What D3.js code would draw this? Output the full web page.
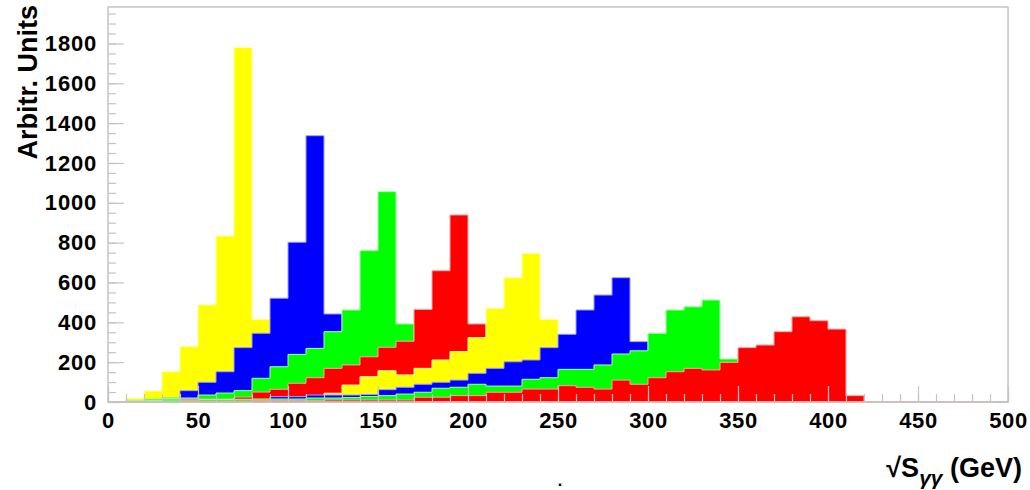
<!DOCTYPE html>
<html>
<head>
<meta charset="utf-8">
<script src="https://cdn.jsdelivr.net/npm/d3@7/dist/d3.min.js"></script>
<style>
  html, body { margin: 0; padding: 0; background: #fff; }
  svg { display: block; }
  text { font-family: "Liberation Sans", Arial, Helvetica, sans-serif; font-weight: bold; fill: #000; }
</style>
</head>
<body>
<svg id="chart" width="1030" height="490"></svg>
<script>
// Bin low edges, 10 GeV wide, 0..490
const binEdges = d3.range(0, 500, 10);

// Contents of each histogram, one value per bin (drawn in this order, each over the previous)
const yellowA = [0, 18, 55, 152, 278, 487, 833, 1779, 415, 300, 200, 140, 100, 70, 50, 35, 25, 18, 12, 8,
  0, 0, 0, 0, 0, 0, 0, 0, 0, 0, 0, 0, 0, 0, 0, 0, 0, 0, 0, 0, 0, 0, 0, 0, 0, 0, 0, 0, 0, 0];
const blueA = [0, 5, 10, 20, 57, 99, 152, 273, 345, 521, 802, 1337, 442, 300, 200, 130, 90, 60, 40, 25,
  15, 0, 0, 0, 0, 0, 0, 0, 0, 0, 0, 0, 0, 0, 0, 0, 0, 0, 0, 0, 0, 0, 0, 0, 0, 0, 0, 0, 0, 0];
const greenA = [0, 8, 15, 18, 20, 35, 45, 57, 119, 177, 239, 269, 353, 462, 760, 1056, 392, 250, 180, 120,
  80, 50, 30, 20, 10, 0, 0, 0, 0, 0, 0, 0, 0, 0, 0, 0, 0, 0, 0, 0, 0, 0, 0, 0, 0, 0, 0, 0, 0, 0];
const redA = [0, 0, 0, 5, 15, 15, 15, 25, 50, 64, 94, 122, 169, 186, 227, 275, 305, 465, 659, 939,
  392, 250, 160, 100, 60, 40, 25, 15, 10, 0, 0, 0, 0, 0, 0, 0, 0, 0, 0, 0, 0, 0, 0, 0, 0, 0, 0, 0, 0, 0];
const yellowB = [0, 0, 0, 0, 0, 0, 0, 0, 0, 5, 10, 25, 44, 85, 127, 157, 136, 169, 211, 253,
  323, 470, 624, 746, 415, 250, 170, 110, 70, 45, 28, 18, 10, 0, 0, 0, 0, 0, 0, 0, 0, 0, 0, 0, 0, 0, 0, 0, 0, 0];
const blueB = [0, 0, 0, 0, 5, 5, 8, 10, 12, 27, 27, 35, 35, 35, 38, 62, 74, 89, 99, 110,
  144, 169, 202, 211, 273, 340, 462, 537, 624, 303, 200, 130, 80, 50, 30, 18, 10, 0, 0, 0, 0, 0, 0, 0, 0, 0, 0, 0, 0, 0];
const greenB = [0, 5, 8, 10, 10, 12, 12, 14, 15, 15, 15, 20, 20, 22, 28, 32, 40, 49, 69, 74,
  89, 80, 80, 114, 122, 164, 164, 186, 241, 257, 345, 462, 478, 512, 216, 150, 100, 60, 40, 25, 15, 0, 0, 0, 0, 0, 0, 0, 0, 0];
const redB = [0, 3, 3, 3, 5, 5, 5, 5, 8, 8, 8, 8, 10, 10, 10, 10, 10, 24, 24, 32,
  32, 49, 49, 65, 65, 82, 74, 65, 110, 89, 122, 152, 169, 161, 199, 273, 286, 353, 428, 408, 366, 32, 0, 0, 0, 0, 0, 0, 0, 0];

const seriesList = [yellowA, blueA, greenA, redA, yellowB, blueB, greenB, redB];
const fills   = ["#ffff00", "#0000ff", "#00ff00", "#ff0000", "#ffff00", "#0000ff", "#00ff00", "#ff0000"];
const edges   = ["#ffff99", "#9f9fff", "#a6ffa6", "#ffa6a6", "#ffff99", "#9f9fff", "#a6ffa6", "#ffa6a6"];

// Axis ranges and ticks
const xDomain = [0, 500];
const yDomain = [0, 1983];
const xLabelTicks = [0, 50, 100, 150, 200, 250, 300, 350, 400, 450, 500];
const yLabelTicks = [0, 200, 400, 600, 800, 1000, 1200, 1400, 1600, 1800];

const frame = { left: 108, top: 7, right: 1008, bottom: 402 };

const svg = d3.select("#chart");
const x = d3.scaleLinear().domain(xDomain).range([frame.left, frame.right]);
const y = d3.scaleLinear().domain(yDomain).range([frame.bottom, frame.top]);
const plain = d3.format("d");

// Histograms as filled step shapes
const area = d3.area()
  .curve(d3.curveStepAfter)
  .x(d => x(d[0]))
  .y0(y(0))
  .y1(d => y(d[1]));

const histLayer = svg.append("g");
seriesList.forEach((vals, k) => {
  const pts = binEdges.map((e, i) => [e, vals[i]]);
  pts.push([xDomain[1], vals[vals.length - 1]]);
  histLayer.append("path")
    .datum(pts)
    .attr("d", area)
    .attr("fill", fills[k])
    .attr("stroke", edges[k])
    .attr("stroke-width", 1);
});

// Frame
const frameColor = "#c4c4c4";
svg.append("rect")
  .attr("x", frame.left).attr("y", frame.top)
  .attr("width", frame.right - frame.left)
  .attr("height", frame.bottom - frame.top)
  .attr("fill", "none")
  .attr("stroke", frameColor)
  .attr("stroke-width", 1.5);

// X axis: minor ticks every 10, major every 50, pointing inward
svg.append("g").attr("transform", `translate(0,${frame.bottom})`)
  .call(d3.axisBottom(x).tickValues(d3.range(0, 501, 10)).tickSize(-8).tickFormat(""))
  .call(g => g.select(".domain").remove())
  .call(g => g.selectAll("line").attr("stroke", frameColor).attr("stroke-width", 1.2));
svg.append("g").attr("transform", `translate(0,${frame.bottom})`)
  .call(d3.axisBottom(x).tickValues(xLabelTicks).tickFormat(plain)
    .tickSizeInner(-16).tickSizeOuter(0).tickPadding(10))
  .call(g => g.select(".domain").remove())
  .call(g => g.selectAll("line").attr("stroke", frameColor).attr("stroke-width", 1.2))
  .call(g => g.selectAll("text").style("font-size", "22px").style("letter-spacing", "0.6px").attr("fill", "#000"));

// Y axis: minor ticks every 50, major every 200
svg.append("g").attr("transform", `translate(${frame.left},0)`)
  .call(d3.axisLeft(y).tickValues(d3.range(0, 1951, 50)).tickSize(-8).tickFormat(""))
  .call(g => g.select(".domain").remove())
  .call(g => g.selectAll("line").attr("stroke", frameColor).attr("stroke-width", 1.2));
svg.append("g").attr("transform", `translate(${frame.left},0)`)
  .call(d3.axisLeft(y).tickValues(yLabelTicks).tickFormat(plain)
    .tickSizeInner(-16).tickSizeOuter(0).tickPadding(11))
  .call(g => g.select(".domain").remove())
  .call(g => g.selectAll("line").attr("stroke", frameColor).attr("stroke-width", 1.2))
  .call(g => g.selectAll("text").style("font-size", "22px").style("letter-spacing", "0.8px").attr("fill", "#000"));

// Axis titles
svg.append("text")
  .attr("transform", `translate(37,${frame.top - 2}) rotate(-90)`)
  .attr("text-anchor", "end")
  .style("font-size", "27px")
  .text("Arbitr. Units");

const xt = svg.append("text")
  .attr("x", 1022).attr("y", 477)
  .attr("text-anchor", "end")
  .style("font-size", "27px");
xt.append("tspan").text("\u221AS");
xt.append("tspan").attr("dy", 8).style("font-size", "21px").style("font-style", "italic").text("\u03B3\u03B3");
xt.append("tspan").attr("dy", -8).text(" (GeV)");

svg.append("text")
  .attr("x", 560).attr("y", 486)
  .attr("text-anchor", "middle")
  .style("font-size", "16px")
  .text(".");
</script>
</body>
</html>
